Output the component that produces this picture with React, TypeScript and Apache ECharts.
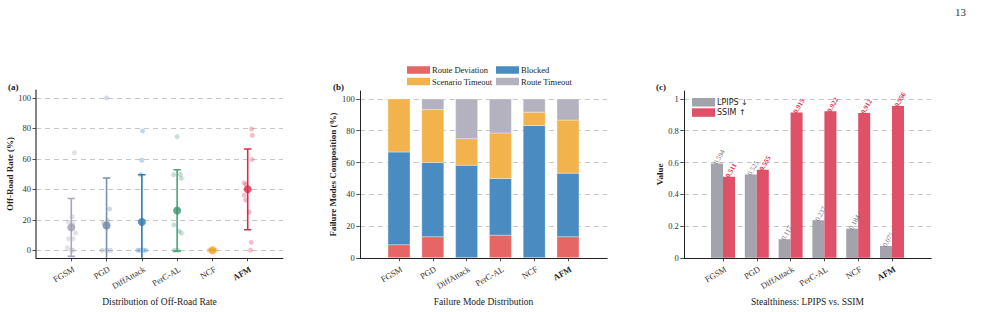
import { useEffect, useRef } from 'react';
import * as echarts from 'echarts';

// ---- shared categories ----
const methods = ['FGSM', 'PGD', 'DiffAttack', 'PerC-AL', 'NCF', 'AFM'];
const highlighted = 'AFM';
const catTicks = [0, 1, 2, 3, 4, 5];

// ---- (a) off-road rate per run ----
const fgsmRuns = [64, 22, 18.5, 17.4, 11.3, 7.6, 7.6, 1.7, 0, 0];
const fgsmJitter = [0.09, 0.03, -0.08, 0.05, 0.12, -0.08, 0.05, -0.11, 0, 0.05];
const pgdRuns = [100, 27.2, 19.5, 17.8, 0, 0, 0];
const pgdJitter = [0, 0.09, 0.03, -0.09, -0.13, 0, 0.11];
const diffRuns = [78.3, 59.1, 49.6, 0, 0, 0, 0];
const diffJitter = [0.02, 0, -0.03, -0.12, -0.05, 0.04, 0.11];
const percRuns = [74.6, 49.6, 49.8, 47.2, 16.7, 12.6, 11.3, 0, 0];
const percJitter = [0, -0.1, 0.09, 0.12, -0.09, 0.05, 0.12, -0.08, 0.02];
const ncfRuns = [0, 0, 0, 0];
const ncfJitter = [-0.1, -0.03, 0.03, 0.1];
const afmRuns = [79.6, 75.4, 59.6, 44.3, 43.0, 36.1, 33.0, 25.0, 5.2, 0];
const afmJitter = [0.11, 0.13, 0.12, -0.1, -0.05, -0.1, -0.06, 0.04, 0.1, 0.08];
const offRoadMean = [15.0, 16.3, 18.5, 26.1, 0, 40.0];
const offRoadStd = [19.0, 31.1, 31.1, 26.7, 0, 26.5];
const offRoadTicks = [0, 20, 40, 60, 80, 100];

// ---- (b) failure mode composition (%) ----
const modeNames = ['Route Deviation', 'Blocked', 'Scenario Timeout', 'Route Timeout'];
const routeDeviation = [8.3, 13.3, 0, 14.3, 0, 13.3];
const blocked = [58.3, 46.7, 58.3, 35.7, 83.3, 40.0];
const scenarioTimeout = [33.4, 33.3, 16.7, 28.6, 8.4, 33.4];
const routeTimeout = [0, 6.7, 25.0, 21.4, 8.3, 13.3];
const compositionTicks = [0, 20, 40, 60, 80, 100];

// ---- (c) stealthiness ----
const lpips = [0.594, 0.525, 0.117, 0.237, 0.184, 0.075];
const ssim = [0.511, 0.555, 0.915, 0.922, 0.912, 0.956];
const valueTicks = [0, 0.2, 0.4, 0.6, 0.8, 1];

const SERIF = '"Liberation Serif", "DejaVu Serif", serif';
const SANS = '"DejaVu Sans", sans-serif';
const INK = '#222';

const methodColors = ['#9d9bb0', '#6d86a6', '#2a7ab8', '#3a976c', '#f0a030', '#e0284e'];
const errColors = ['#a8a6ba', '#7a90ae', '#2a7ab8', '#4aa37b', '#f0a030', '#e0284e'];
const modeColors = ['#e66666', '#4a8bc2', '#f2b24c', '#b4b2be'];

const runs = [fgsmRuns, pgdRuns, diffRuns, percRuns, ncfRuns, afmRuns];
const jitters = [fgsmJitter, pgdJitter, diffJitter, percJitter, ncfJitter, afmJitter];
const modes = [routeDeviation, blocked, scenarioTimeout, routeTimeout];

function methodLabel(v: number) {
  const n = methods[Math.round(v)] ?? '';
  return n === highlighted ? `{b|${n}}` : n;
}

function xAxisFor(gridIndex: number, min: number, max: number, name: string) {
  return {
    type: 'value',
    gridIndex,
    min,
    max,
    axisLine: { show: true, onZero: false, lineStyle: { color: INK, width: 1 } },
    axisTick: { show: true, customValues: catTicks, length: 3.5, lineStyle: { color: INK, width: 0.8 } },
    axisLabel: {
      customValues: catTicks,
      formatter: methodLabel,
      rotate: 30,
      margin: 12,
      padding: [0, -3, 0, 0],
      fontFamily: SERIF,
      fontSize: 8.5,
      color: '#333',
      rich: { b: { fontWeight: 'bold', fontFamily: SERIF, fontSize: 8.5, color: '#222' } },
    },
    splitLine: { show: false },
    name,
    nameLocation: 'middle',
    nameGap: 37,
    nameTextStyle: { fontFamily: SERIF, fontSize: 9.5, color: INK },
  };
}

function yAxisFor(gridIndex: number, min: number, max: number, ticks: number[], name: string, nameGap: number, lineColor = INK, lineWidth = 1) {
  return {
    type: 'value',
    gridIndex,
    min,
    max,
    axisLine: { show: true, onZero: false, lineStyle: { color: lineColor, width: lineWidth } },
    axisTick: { show: true, customValues: ticks, length: 3.5, lineStyle: { color: INK, width: 0.8 } },
    axisLabel: {
      customValues: ticks,
      formatter: (v: number) => String(v),
      margin: 5,
      fontFamily: SERIF,
      fontSize: 8.5,
      color: '#333',
    },
    splitLine: { show: true, lineStyle: { color: '#c6c6c6', width: 1, type: [5, 4] } },
    name,
    nameLocation: 'middle',
    nameGap,
    nameTextStyle: { fontFamily: SERIF, fontSize: 9, fontWeight: 'bold', color: INK },
  };
}

function barLegend(data: string[], left: number, top: number, itemHeight: number, itemGap: number, font: string, fontSize: number) {
  return {
    data,
    orient: 'vertical',
    left,
    top,
    itemWidth: 23,
    itemHeight,
    itemGap,
    icon: 'rect',
    padding: 0,
    textStyle: { fontFamily: font, fontSize, color: INK, padding: [0, 0, 0, -3] },
  };
}

function valueLabel(color: string) {
  return {
    show: true,
    position: 'top',
    distance: 2,
    rotate: 60,
    align: 'left',
    verticalAlign: 'middle',
    offset: [-3, 0],
    fontFamily: SERIF,
    fontSize: 7,
    color,
    formatter: (p: any) => p.value[1].toFixed(3),
  };
}

export default function App() {
  const ref = useRef<HTMLDivElement>(null);

  useEffect(() => {
    if (!ref.current) return;
    const chart = echarts.init(ref.current, undefined, { renderer: 'svg' });

    const pointData: any[] = [];
    runs.forEach((vals, i) => {
      vals.forEach((v, k) => {
        pointData.push({
          value: [i + jitters[i][k], v],
          itemStyle: { color: methodColors[i], opacity: 0.3 },
        });
      });
    });

    // stacked segments [category, from, to] for each failure mode
    const running = methods.map(() => 0);
    const modeSeries = modes.map((vals, m) => {
      const data = vals.map((v, i) => {
        const from = running[i];
        running[i] += v;
        return [i, from, running[i]];
      });
      return {
        type: 'custom',
        name: modeNames[m],
        xAxisIndex: 1,
        yAxisIndex: 1,
        clip: true,
        z: 3,
        silent: true,
        itemStyle: { color: modeColors[m] },
        data,
        renderItem: (_params: any, api: any) => {
          const x = api.value(0);
          const y0 = api.value(1);
          const y1 = api.value(2);
          if (y1 - y0 <= 0) return null;
          const p0 = api.coord([x, y0]);
          const p1 = api.coord([x, y1]);
          const w = api.size([0.65, 0])[0];
          return {
            type: 'rect',
            shape: { x: p0[0] - w / 2, y: p1[1], width: w, height: p0[1] - p1[1] },
            style: { fill: api.visual('color'), stroke: 'rgba(255,255,255,0.55)', lineWidth: 0.6 },
          };
        },
      };
    });

    const option: any = {
      animation: false,
      backgroundColor: '#fff',
      grid: [
        { left: 36, top: 90.3, width: 247, height: 169.4 },
        { left: 359.8, top: 91, width: 247.4, height: 168.3 },
        { left: 683.8, top: 91, width: 247.4, height: 168.3 },
      ],
      xAxis: [
        xAxisFor(0, -1, 6, 'Distribution of Off-Road Rate'),
        xAxisFor(1, -1.16, 6.16, 'Failure Mode Distribution'),
        xAxisFor(2, -1.16, 6.16, 'Stealthiness: LPIPS vs. SSIM'),
      ],
      yAxis: [
        yAxisFor(0, -5, 105, offRoadTicks, 'Off-Road Rate (%)', 18, '#5c5c5c', 1.5),
        yAxisFor(1, 0, 105, compositionTicks, 'Failure Modes Composition (%)', 22),
        yAxisFor(2, 0, 1.05, valueTicks, 'Value', 19),
      ],
      legend: [
        barLegend([modeNames[0], modeNames[2]], 407, 65.5, 7.5, 2.5, SERIF, 8.5),
        barLegend([modeNames[1], modeNames[3]], 496, 65.5, 7.5, 2.5, SERIF, 8.5),
        barLegend(['LPIPS ↓', 'SSIM ↑'], 692, 98, 8.5, 1.8, SANS, 8),
      ],
      graphic: [
        { type: 'text', left: 8, top: 82, style: { text: '(a)', fontFamily: SERIF, fontSize: 9, fontWeight: 'bold', fill: INK } },
        { type: 'text', left: 333, top: 82, style: { text: '(b)', fontFamily: SERIF, fontSize: 9, fontWeight: 'bold', fill: INK } },
        { type: 'text', left: 656, top: 82, style: { text: '(c)', fontFamily: SERIF, fontSize: 9, fontWeight: 'bold', fill: INK } },
        { type: 'text', left: 955, top: 6, style: { text: '13', fontFamily: SERIF, fontSize: 11, fill: '#333' } },
      ],
      series: [
        // (a) individual runs
        {
          type: 'scatter',
          xAxisIndex: 0,
          yAxisIndex: 0,
          symbolSize: 5,
          z: 2,
          silent: true,
          data: pointData,
        },
        // (a) mean ± std error bars
        {
          type: 'custom',
          xAxisIndex: 0,
          yAxisIndex: 0,
          clip: true,
          z: 3,
          silent: true,
          data: methods.map((_, i) => ({
            value: [i, offRoadMean[i], offRoadStd[i]],
            itemStyle: { color: errColors[i] },
          })),
          renderItem: (_params: any, api: any) => {
            const x = api.value(0);
            const m = api.value(1);
            const s = api.value(2);
            const top = api.coord([x, m + s]);
            const bot = api.coord([x, m - s]);
            const color = api.visual('color');
            const st = { stroke: color, lineWidth: 1.6 };
            const cw = 3.7;
            return {
              type: 'group',
              children: [
                { type: 'line', shape: { x1: top[0], y1: top[1], x2: bot[0], y2: bot[1] }, style: st },
                { type: 'line', shape: { x1: top[0] - cw, y1: top[1], x2: top[0] + cw, y2: top[1] }, style: st },
                { type: 'line', shape: { x1: bot[0] - cw, y1: bot[1], x2: bot[0] + cw, y2: bot[1] }, style: st },
              ],
            };
          },
        },
        // (a) means
        {
          type: 'scatter',
          xAxisIndex: 0,
          yAxisIndex: 0,
          symbolSize: 8,
          z: 4,
          silent: true,
          data: methods.map((_, i) => ({
            value: [i, offRoadMean[i]],
            itemStyle: { color: methodColors[i] },
          })),
        },
        // (b) stacked failure modes
        ...modeSeries,
        // (c) LPIPS vs SSIM
        {
          type: 'bar',
          name: 'LPIPS ↓',
          xAxisIndex: 2,
          yAxisIndex: 2,
          barWidth: 12,
          barGap: '0%',
          itemStyle: { color: '#a3a3ab' },
          label: valueLabel('#6f6f7a'),
          data: lpips.map((v, i) => [i, v]),
        },
        {
          type: 'bar',
          name: 'SSIM ↑',
          xAxisIndex: 2,
          yAxisIndex: 2,
          barWidth: 12,
          barGap: '0%',
          itemStyle: { color: '#df5069' },
          label: { ...valueLabel('#e0324f'), fontWeight: 'bold' },
          data: ssim.map((v, i) => [i, v]),
        },
      ],
    };

    chart.setOption(option);
    return () => chart.dispose();
  }, []);

  return (
    <div
      ref={ref}
      style={{ position: 'fixed', left: 0, top: 0, width: 989, height: 312, background: '#fff' }}
    />
  );
}
